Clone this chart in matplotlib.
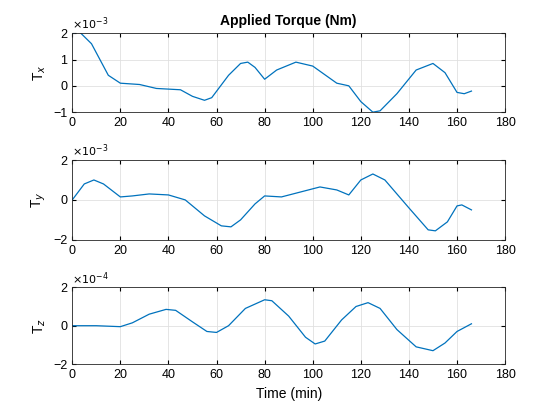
import matplotlib
matplotlib.use("Agg")
import matplotlib.pyplot as plt

tx_t = [0,3,8,15,20,28,35,45,50,55,58,65,70,73,76,80,85,93,100,110,115,120,125,128,135,143,150,155,160,163,166]
tx_v = [2.0,2.05,1.6,0.4,0.1,0.05,-0.1,-0.15,-0.4,-0.55,-0.45,0.4,0.85,0.9,0.7,0.25,0.6,0.9,0.75,0.1,0.0,-0.6,-1.0,-0.95,-0.3,0.6,0.85,0.5,-0.25,-0.3,-0.2]
ty_t = [0,5,9,13,20,25,32,40,47,55,62,66,70,76,80,87,95,103,110,115,120,125,130,140,148,151,156,160,162,166]
ty_v = [0,0.8,1.0,0.8,0.15,0.2,0.3,0.25,0.0,-0.8,-1.3,-1.35,-1.0,-0.2,0.2,0.15,0.4,0.65,0.5,0.25,1.0,1.3,1.0,-0.4,-1.5,-1.55,-1.1,-0.3,-0.25,-0.5]
tz_t = [0,10,20,25,32,39,43,50,56,60,65,72,80,83,90,97,101,105,112,118,123,128,135,143,150,155,160,166]
tz_v = [0,0,-0.05,0.15,0.6,0.85,0.8,0.2,-0.3,-0.35,0,0.9,1.35,1.3,0.5,-0.6,-0.95,-0.8,0.3,1.0,1.2,0.9,-0.2,-1.1,-1.3,-0.9,-0.3,0.1]

plt.rcParams['font.family'] = ['Liberation Sans', 'DejaVu Sans']
fig = plt.figure(figsize=(5.6, 4.2), dpi=100)
specs = [
    (0.733, 0.188, tx_t, tx_v, (-1, 2), [-1, 0, 1, 2], 'T$_x$', '-3'),
    (0.429, 0.19, ty_t, ty_v, (-2, 2), [-2, 0, 2], 'T$_y$', '-3'),
    (0.133, 0.183, tz_t, tz_v, (-2, 2), [-2, 0, 2], 'T$_z$', '-4'),
]
axes = []
for b, h, t, v, yl, yt, lab, ex in specs:
    ax = fig.add_axes([0.129, b, 0.773, h])
    ax.plot(t, v, color='#0072BD', lw=0.9)
    ax.set_xlim(0, 180); ax.set_ylim(*yl)
    ax.set_xticks(range(0, 181, 20)); ax.set_yticks(yt)
    ax.grid(True, color='#e0e0e0', lw=0.6)
    ax.tick_params(direction='in', labelsize=9, length=3, top=True, right=True, labeltop=False, labelright=False)
    ax.set_ylabel(lab, fontsize=10)
    for s in ax.spines.values():
        s.set_color('#262626'); s.set_linewidth(0.6)
    ax.text(0, 1.01, r'$\times10^{%s}$' % ex, transform=ax.transAxes, fontsize=8, va='bottom')
    axes.append(ax)
axes[0].set_title('Applied Torque (Nm)', fontsize=10, fontweight='bold')
axes[2].set_xlabel('Time (min)', fontsize=10)
fig.savefig('out.png', dpi=100)
